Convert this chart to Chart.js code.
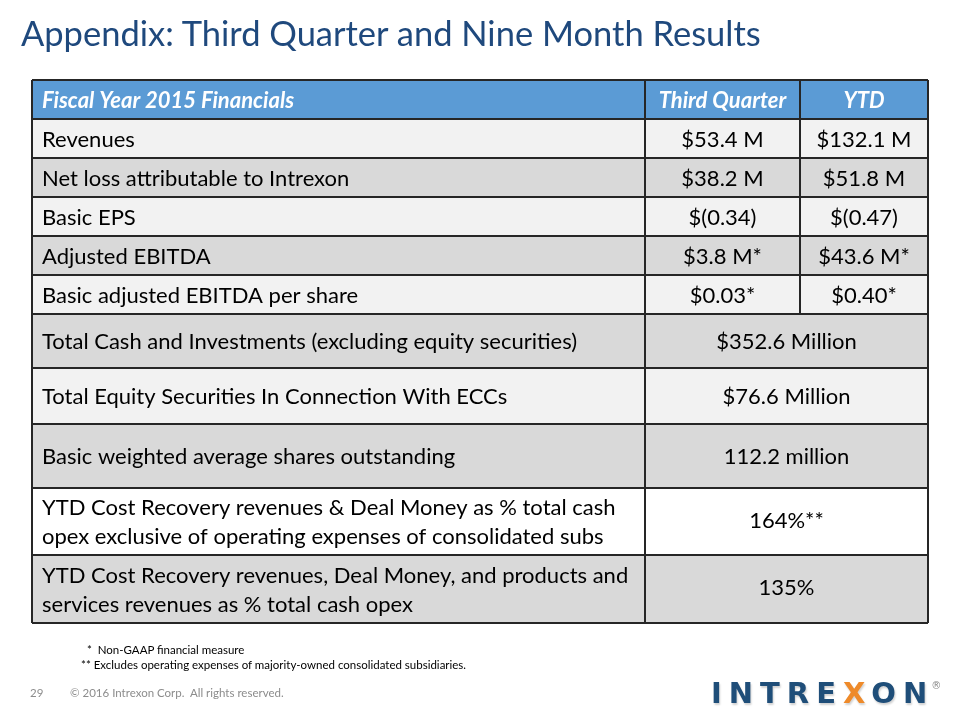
<!DOCTYPE html>
<html>
<head>
<meta charset="utf-8">
<script src="https://cdn.jsdelivr.net/npm/chart.js@4.4.1/dist/chart.umd.min.js"></script>
<style>
  html, body { margin: 0; padding: 0; background: #ffffff; }
  #slide { position: relative; width: 960px; height: 720px; overflow: hidden; font-family: Lato, "Open Sans", sans-serif; }
  #tableChart { position: absolute; left: 0; top: 0; }
  .title { position: absolute; left: 21px; top: 12px; font-size: 34.5px; color: #1F497D; white-space: nowrap; }
  .note { position: absolute; font-size: 11.5px; color: #000; white-space: nowrap; }
  .footer { position: absolute; top: 686px; font-size: 11.5px; color: #8c8c8c; white-space: nowrap; }
  .logo { position: absolute; left: 711px; top: 676px; font-family: "DejaVu Sans", sans-serif; font-weight: bold;
          font-size: 29px; letter-spacing: 7px; color: #1F4E79; white-space: nowrap; text-shadow: 1px 2px 2px rgba(0,0,0,0.18); }
  .logo .x { color: #EE8A2A; }
  .logo sup { font-size: 10px; letter-spacing: 0; color: #888; vertical-align: 14px; margin-left: -3px; text-shadow: none; font-weight: normal; }
</style>
</head>
<body>
<div id="slide">
  <canvas id="tableChart" width="960" height="720"></canvas>
  <div class="title">Appendix: Third Quarter and Nine Month Results</div>
  <div class="note" style="left:84px; top:643px;">&nbsp;*&nbsp; Non-GAAP financial measure</div>
  <div class="note" style="left:81px; top:658px;">** Excludes operating expenses of majority-owned consolidated subsidiaries.</div>
  <div class="footer" style="left:30px;">29</div>
  <div class="footer" style="left:70px;">© 2016 Intrexon Corp.&nbsp; All rights reserved.</div>
  <div class="logo">INTRE<span class="x">X</span>ON<sup>®</sup></div>
</div>
<script>
// Table content
const headers = ["Fiscal Year 2015 Financials", "Third Quarter", "YTD"];
const rowLabels = [
    ["Revenues"],
    ["Net loss attributable to Intrexon"],
    ["Basic EPS"],
    ["Adjusted EBITDA"],
    ["Basic adjusted EBITDA per share"],
    ["Total Cash and Investments (excluding equity securities)"],
    ["Total Equity Securities In Connection With ECCs"],
    ["Basic weighted average shares outstanding"],
    ["YTD Cost Recovery revenues & Deal Money as % total cash", "opex exclusive of operating expenses of consolidated subs"],
    ["YTD Cost Recovery revenues, Deal Money, and products and", "services revenues as % total cash opex"],
];
const q3Values = ["$53.4 M", "$38.2 M", "$(0.34)", "$3.8 M*", "$0.03*", null, null, null, null, null];
const ytdValues = ["$132.1 M", "$51.8 M", "$(0.47)", "$43.6 M*", "$0.40*", null, null, null, null, null];
const mergedValues = [null, null, null, null, null, "$352.6 Million", "$76.6 Million", "112.2 million", "164%**", "135%"];

// Layout (scale units): column edges and row heights (header first)
const colEdges = [0, 613, 768, 896];
const rowHeights = [39, 39, 39, 39, 39, 39, 54, 56, 64, 67, 68];
const rowFills = ["#5B9BD5", "#F2F2F2", "#D9D9D9", "#F2F2F2", "#D9D9D9", "#F2F2F2",
                  "#D9D9D9", "#F2F2F2", "#D9D9D9", "#FFFFFF", "#D9D9D9"];

const rowEdges = [0];
rowHeights.forEach(h => rowEdges.push(rowEdges[rowEdges.length - 1] + h));
const totalHeight = rowEdges[rowEdges.length - 1];

const tablePlugin = {
    id: "tableCells",
    afterDraw(chart) {
        const ctx = chart.ctx;
        const xs = chart.scales.x;
        const ys = chart.scales.y;
        const px = v => xs.getPixelForValue(v);
        const py = v => ys.getPixelForValue(v);

        // cell fills
        rowHeights.forEach((h, r) => {
            ctx.fillStyle = rowFills[r];
            ctx.fillRect(px(colEdges[0]), py(rowEdges[r]), px(colEdges[3]) - px(colEdges[0]), py(rowEdges[r + 1]) - py(rowEdges[r]));
        });

        // borders
        ctx.strokeStyle = "#262626";
        ctx.lineWidth = 2;
        ctx.beginPath();
        rowEdges.forEach(e => {
            ctx.moveTo(px(colEdges[0]), py(e));
            ctx.lineTo(px(colEdges[3]), py(e));
        });
        ctx.moveTo(px(colEdges[0]), py(0));
        ctx.lineTo(px(colEdges[0]), py(totalHeight));
        ctx.moveTo(px(colEdges[3]), py(0));
        ctx.lineTo(px(colEdges[3]), py(totalHeight));
        ctx.moveTo(px(colEdges[1]), py(0));
        ctx.lineTo(px(colEdges[1]), py(totalHeight));
        // Q3 / YTD divider only for the split rows
        const splitRows = 1 + q3Values.filter(v => v !== null).length;
        ctx.moveTo(px(colEdges[2]), py(0));
        ctx.lineTo(px(colEdges[2]), py(rowEdges[splitRows]));
        ctx.stroke();

        // header text
        ctx.textBaseline = "middle";
        ctx.fillStyle = "#ffffff";
        ctx.font = "italic bold 22px Lato";
        const hy = py(rowEdges[0] + rowHeights[0] / 2) + 1;
        ctx.textAlign = "left";
        ctx.fillText(headers[0], px(colEdges[0]) + 10, hy);
        ctx.textAlign = "center";
        ctx.fillText(headers[1], (px(colEdges[1]) + px(colEdges[2])) / 2, hy);
        ctx.fillText(headers[2], (px(colEdges[2]) + px(colEdges[3])) / 2, hy);

        // body text
        ctx.fillStyle = "#000000";
        ctx.font = "22px Lato";
        const lineGap = 29;
        rowLabels.forEach((lines, i) => {
            const r = i + 1;
            const cy = py(rowEdges[r] + rowHeights[r] / 2) + 1;
            ctx.textAlign = "left";
            lines.forEach((t, k) => {
                ctx.fillText(t, px(colEdges[0]) + 10, cy + (k - (lines.length - 1) / 2) * lineGap);
            });
            ctx.textAlign = "center";
            if (q3Values[i] !== null) {
                ctx.fillText(q3Values[i], (px(colEdges[1]) + px(colEdges[2])) / 2, cy);
                ctx.fillText(ytdValues[i], (px(colEdges[2]) + px(colEdges[3])) / 2, cy);
            } else {
                ctx.fillText(mergedValues[i], (px(colEdges[1]) + px(colEdges[3])) / 2, cy - (lines.length > 1 ? 2 : 0));
            }
        });
    }
};

const ctx = document.getElementById("tableChart").getContext("2d");
new Chart(ctx, {
    type: "scatter",
    data: { datasets: [] },
    options: {
        responsive: false,
        animation: false,
        events: [],
        layout: { padding: { left: 32, top: 80, right: 32, bottom: 97 } },
        plugins: { legend: { display: false }, tooltip: { enabled: false } },
        scales: {
            x: { type: "linear", min: colEdges[0], max: colEdges[3], display: false },
            y: { type: "linear", min: 0, max: totalHeight, reverse: true, display: false },
        },
    },
    plugins: [tablePlugin],
});
</script>
</body>
</html>
